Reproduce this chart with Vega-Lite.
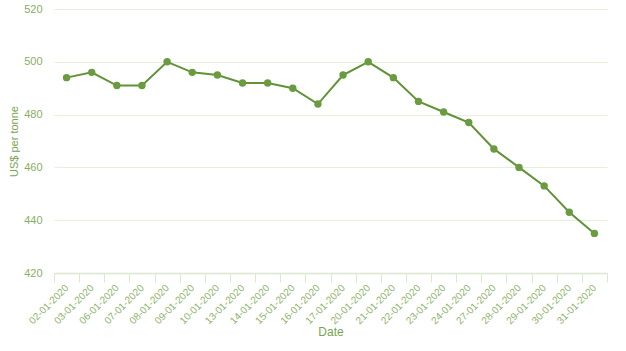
{
  "$schema": "https://vega.github.io/schema/vega-lite/v6.json",
  "width": 553,
  "height": 264,
  "autosize": {"type": "none"},
  "padding": {"left": 54, "top": 9, "right": 19, "bottom": 78},
  "background": "white",
  "config": {
    "view": {"stroke": null},
    "font": "Liberation Sans",
    "axis": {"labelFont": "Liberation Sans", "titleFont": "Liberation Sans"}
  },
  "data": {
    "values": [
      {"Date": "02-01-2020", "Price": 494},
      {"Date": "03-01-2020", "Price": 496},
      {"Date": "06-01-2020", "Price": 491},
      {"Date": "07-01-2020", "Price": 491},
      {"Date": "08-01-2020", "Price": 500},
      {"Date": "09-01-2020", "Price": 496},
      {"Date": "10-01-2020", "Price": 495},
      {"Date": "13-01-2020", "Price": 492},
      {"Date": "14-01-2020", "Price": 492},
      {"Date": "15-01-2020", "Price": 490},
      {"Date": "16-01-2020", "Price": 484},
      {"Date": "17-01-2020", "Price": 495},
      {"Date": "20-01-2020", "Price": 500},
      {"Date": "21-01-2020", "Price": 494},
      {"Date": "22-01-2020", "Price": 485},
      {"Date": "23-01-2020", "Price": 481},
      {"Date": "24-01-2020", "Price": 477},
      {"Date": "27-01-2020", "Price": 467},
      {"Date": "28-01-2020", "Price": 460},
      {"Date": "29-01-2020", "Price": 453},
      {"Date": "30-01-2020", "Price": 443},
      {"Date": "31-01-2020", "Price": 435}
    ]
  },
  "encoding": {
    "x": {
      "field": "Date",
      "type": "ordinal",
      "sort": null,
      "scale": {"paddingInner": 0, "paddingOuter": 0},
      "axis": {
        "title": "Date",
        "titleColor": "#7aa350",
        "titleFontSize": 12,
        "titleFontWeight": "normal",
        "titlePadding": 1,
        "labelAngle": -45,
        "labelAlign": "right",
        "labelBaseline": "middle",
        "labelColor": "#8db36a",
        "labelFontSize": 10,
        "labelPadding": 4,
        "tickBand": "extent",
        "tickSize": 9,
        "tickColor": "#dbe7cf",
        "domainColor": "#dbe7cf",
        "domainWidth": 1.5,
        "grid": false
      }
    },
    "y": {
      "field": "Price",
      "type": "quantitative",
      "scale": {"domain": [420, 520], "nice": false, "zero": false},
      "axis": {
        "title": "US$ per tonne",
        "titleColor": "#7aa350",
        "titleFontSize": 11,
        "titleFontWeight": "normal",
        "titlePadding": 4,
        "values": [420, 440, 460, 480, 500, 520],
        "labelColor": "#8aad65",
        "labelFontSize": 11,
        "labelPadding": 12,
        "ticks": false,
        "domain": false,
        "gridColor": "#e6eedc",
        "gridWidth": 1
      }
    }
  },
  "layer": [
    {"mark": {"type": "line", "color": "#5f9336", "strokeWidth": 2}},
    {"mark": {"type": "point", "filled": true, "opacity": 1, "color": "#6b9b40", "size": 55}}
  ]
}
